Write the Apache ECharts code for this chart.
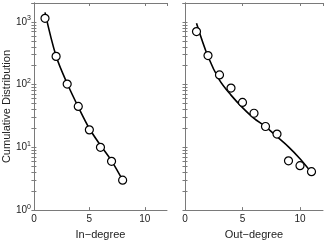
<!DOCTYPE html>
<html><head><meta charset="utf-8">
<script src="https://cdn.jsdelivr.net/npm/echarts@6/dist/echarts.min.js"></script>
<style>html,body{margin:0;padding:0;background:#fff}#c{width:326px;height:245px}</style>
</head><body><div id="c"></div>
<script>
// In-degree panel
const inDegX = [1, 2, 3, 4, 5, 6, 7, 8];
const inDegPoints = [1140, 282, 102, 45, 19, 10, 6.0, 3.0];
const inFitX = [1, 2, 3, 4, 5, 6, 7, 8];
const inFitY = [1420, 285, 104, 44, 20, 10.8, 6.1, 3.0];
// Out-degree panel
const outDegX = [1, 2, 3, 4, 5, 6, 7, 8, 9, 10, 11];
const outDegPoints = [700, 290, 143, 88, 52, 35, 21.5, 16.3, 6.1, 5.1, 4.1];
const outFitX = [1, 2, 3, 4, 5, 6, 7, 8, 9, 10, 10.8];
const outFitY = [950, 280, 118, 68, 43, 29, 21.5, 14.8, 10.2, 6.6, 4.4];
// axes
const xTicks = [0, 5, 10];
const yLabelVals = [1, 10, 100, 1000];
const yTickVals = [];
for (let d = 1; d <= 1000; d *= 10) for (let k = 1; k <= 9; k++) if (k * d <= 2000) yTickVals.push(k * d);
yTickVals.push(2000);

const font = 'Liberation Sans, Arial, sans-serif';
const gray = '#7a7a7a';
const supFmt = v => { const e = Math.round(Math.log10(v)); return '{b|10}{s|' + e + '}'; };

function xAx(grid, pos, name, show) {
  return {
    type: 'value', gridIndex: grid, position: pos, min: 0, max: 12, interval: 5,
    name: show ? name : '', nameLocation: 'middle', nameGap: 12,
    nameTextStyle: { fontFamily: font, fontSize: 11, color: '#222' },
    axisLine: { show: true, lineStyle: { color: gray, width: 1 } },
    axisTick: { show: true, inside: true, length: 3, lineStyle: { color: gray } },
    axisLabel: { show: show, fontFamily: font, fontSize: 10, color: '#222', margin: 4, showMaxLabel: false,
      formatter: v => (xTicks.includes(v) ? String(v) : '') },
    splitLine: { show: false }
  };
}
function yAx(grid, pos, showLabel, name) {
  return {
    type: 'log', logBase: 10, gridIndex: grid, position: pos, min: 1, max: 2000,
    name: name || '', nameLocation: 'middle', nameGap: 16,
    nameTextStyle: { fontFamily: font, fontSize: 11, color: '#222' },
    axisLine: { show: true, lineStyle: { color: gray, width: 1 } },
    axisTick: { show: true, inside: true, length: 2.5, customValues: yTickVals, lineStyle: { color: gray } },
    axisLabel: { show: showLabel, customValues: yLabelVals, margin: 3, formatter: supFmt,
      rich: { b: { fontFamily: font, fontSize: 10, color: '#222' },
              s: { fontFamily: font, fontSize: 7, color: '#222', verticalAlign: 'top', padding: [0, 0, 7, 0] } } },
    splitLine: { show: false }
  };
}

const lineStyle = { color: '#000', width: 1.6 };
const symStyle = { color: '#fff', borderColor: '#000', borderWidth: 1.2, opacity: 1 };

const chart = echarts.init(document.getElementById('c'), null, { renderer: 'canvas' });
chart.setOption({
  backgroundColor: '#fff',
  animation: false,
  grid: [
    { left: 30, right: 159, top: 3, bottom: 25.5 },
    { left: 185, right: 3, top: 3, bottom: 25.5 }
  ],
  xAxis: [xAx(0, 'bottom', 'In\u2212degree', true), xAx(0, 'top', '', false),
          xAx(1, 'bottom', 'Out\u2212degree', true), xAx(1, 'top', '', false)],
  yAxis: [yAx(0, 'left', true, 'Cumulative Distribution'), yAx(0, 'right', false),
          yAx(1, 'left', false), yAx(1, 'right', false)],
  series: [
    { type: 'line', xAxisIndex: 0, yAxisIndex: 0, smooth: 0.35, showSymbol: false, lineStyle,
      data: inFitX.map((x, i) => [x, inFitY[i]]), z: 2 },
    { type: 'scatter', xAxisIndex: 0, yAxisIndex: 0, symbol: 'circle', symbolSize: 8, itemStyle: symStyle,
      data: inDegX.map((x, i) => [x, inDegPoints[i]]), z: 3 },
    { type: 'line', xAxisIndex: 2, yAxisIndex: 2, smooth: 0.35, showSymbol: false, lineStyle,
      data: outFitX.map((x, i) => [x, outFitY[i]]), z: 2 },
    { type: 'scatter', xAxisIndex: 2, yAxisIndex: 2, symbol: 'circle', symbolSize: 8, itemStyle: symStyle,
      data: outDegX.map((x, i) => [x, outDegPoints[i]]), z: 3 }
  ]
});
</script></body></html>
